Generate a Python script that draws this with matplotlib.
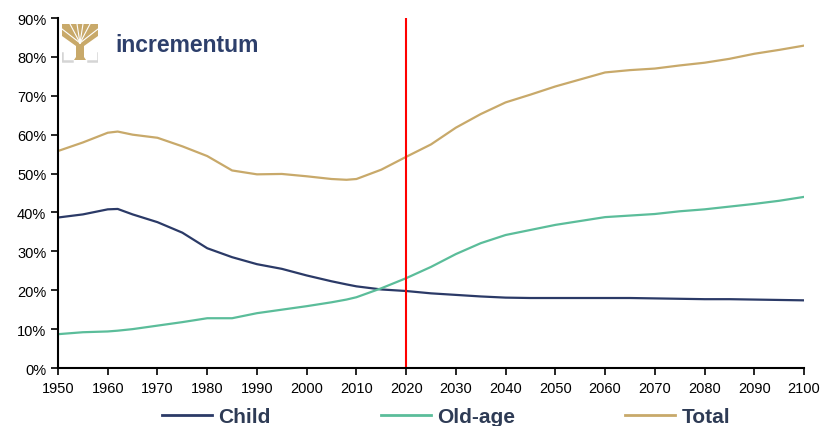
import matplotlib
matplotlib.use("Agg")
import matplotlib.pyplot as plt
from matplotlib.ticker import FuncFormatter, MultipleLocator

years = [1950, 1955, 1960, 1962, 1965, 1970, 1975, 1980, 1985, 1990, 1995,
         2000, 2005, 2008, 2010, 2015, 2020, 2025, 2030, 2035, 2040, 2045,
         2050, 2055, 2060, 2065, 2070, 2075, 2080, 2085, 2090, 2095, 2100]

child = [38.7, 39.5, 40.8, 40.9, 39.5, 37.5, 34.8, 30.8, 28.5, 26.7, 25.5,
         23.8, 22.3, 21.5, 21.0, 20.2, 19.8, 19.2, 18.8, 18.4, 18.1, 18.0,
         18.0, 18.0, 18.0, 18.0, 17.9, 17.8, 17.7, 17.7, 17.6, 17.5, 17.4]

old_age = [8.7, 9.2, 9.4, 9.6, 10.0, 10.9, 11.8, 12.8, 12.8, 14.1, 15.0,
           15.9, 16.9, 17.6, 18.2, 20.5, 23.1, 26.0, 29.3, 32.1, 34.2, 35.5,
           36.8, 37.8, 38.8, 39.2, 39.6, 40.3, 40.8, 41.5, 42.2, 43.0, 44.0]

total = [55.8, 58.0, 60.5, 60.8, 60.0, 59.2, 57.0, 54.5, 50.8, 49.8, 49.9,
         49.3, 48.6, 48.4, 48.6, 51.0, 54.3, 57.5, 61.8, 65.3, 68.3, 70.3,
         72.4, 74.2, 76.0, 76.6, 77.0, 77.8, 78.5, 79.5, 80.8, 81.8, 82.9]

series_names = ["Child", "Old-age", "Total"]
colors = ["#2B3A67", "#5BBD9A", "#C8A96A"]
marker_year = 2020

plt.rcParams['font.family'] = ['Liberation Sans', 'DejaVu Sans']

fig = plt.figure(figsize=(8.22, 4.27), dpi=100)
ax = fig.add_axes([0.0706, 0.1358, 0.9075, 0.8197])

lines = []
for vals, name, c in zip([child, old_age, total], series_names, colors):
    ln, = ax.plot(years, vals, color=c, lw=1.6, label=name)
    lines.append(ln)

ax.axvline(marker_year, color="#FF0000", lw=1.5)

ax.set_xlim(1950, 2100)
ax.set_ylim(0, 90)
ax.xaxis.set_major_locator(MultipleLocator(10))
ax.yaxis.set_major_locator(MultipleLocator(10))
ax.yaxis.set_major_formatter(FuncFormatter(lambda v, p: f"{int(v)}%"))
ax.spines['top'].set_visible(False)
ax.spines['right'].set_visible(False)
for s in ['left', 'bottom']:
    ax.spines[s].set_linewidth(1.5)
    ax.spines[s].set_color("black")
ax.tick_params(direction='out', length=5, width=1.2, labelsize=10.5, colors="black")
ax.tick_params(axis='x', pad=4)

leg = fig.legend(handles=lines, loc='center', bbox_to_anchor=(0.5426, 0.022),
                 ncol=3, frameon=False, handlelength=2.4, handletextpad=0.3,
                 columnspacing=5.3, borderpad=0,
                 prop={'family': ['Liberation Sans Narrow', 'Liberation Sans'],
                       'weight': 'bold', 'size': 15})
for t in leg.get_texts():
    t.set_color("#2E3B55")
for h in leg.get_lines():
    h.set_linewidth(2)

# logo
lax = fig.add_axes([62 / 822, 1 - 64 / 427, 36 / 822, 39 / 427])
lax.set_xlim(0, 36)
lax.set_ylim(39, 0)
lax.axis('off')
gold = "#C8A96A"
lax.fill([0, 36, 36, 22, 22, 24, 12, 14, 14, 0],
         [0, 0, 12, 22, 33, 36, 36, 33, 22, 12], color=gold, lw=0)
for x0, y0 in [(0, 5), (8, 0), (15, 0), (21, 0), (28, 0), (36, 5)]:
    lax.plot([18, x0], [19, y0], color="white", lw=0.8)
lax.plot([0, 0, 10], [29, 37, 37], color="#D5D5D5", lw=1.8)
lax.plot([26, 36, 36], [37, 37, 29], color="#D5D5D5", lw=1.8)

fig.text(115 / 822, 1 - 45 / 427, "incrementum", color="#2D3F6B",
         fontsize=16.5, va='center', ha='left', fontweight='bold',
         family=['Liberation Sans', 'DejaVu Sans'])

fig.savefig("out.png", dpi=100)
